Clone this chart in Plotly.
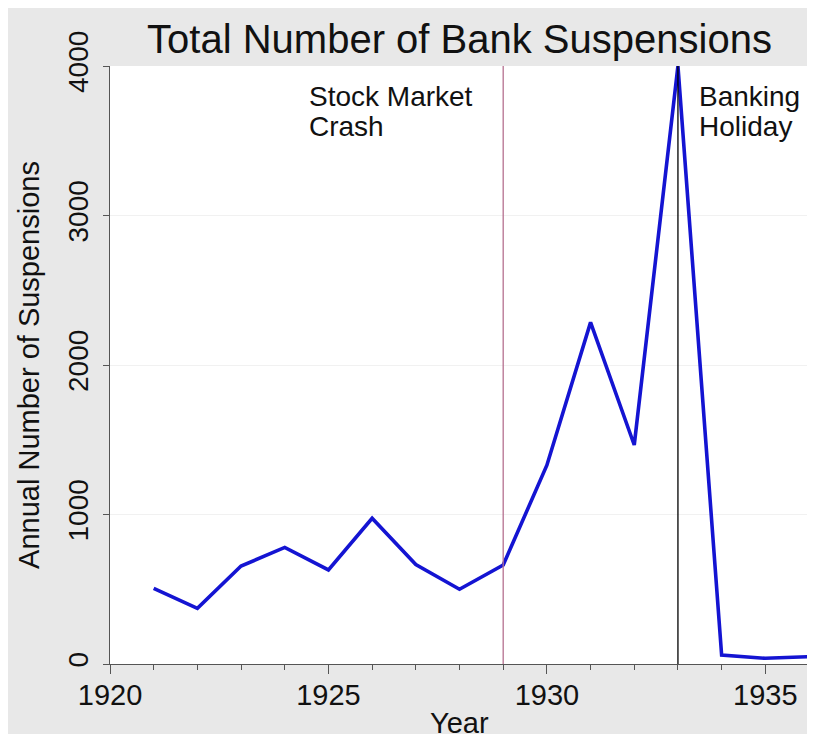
import plotly.graph_objects as go

years = [1921, 1922, 1923, 1924, 1925, 1926, 1927, 1928, 1929, 1930, 1931, 1932, 1933, 1934, 1935, 1936]
suspensions = [506, 372, 655, 780, 629, 975, 665, 500, 662, 1330, 2285, 1465, 4000, 60, 38, 49]
event_years = [1929, 1933]
event_colors = ["#b5708f", "#000000"]
y_ticks = [0, 1000, 2000, 3000, 4000]
x_ticks = [1920, 1925, 1930, 1935]

# page has an 8px body margin; figure sized to fill the rest of the window
W, H = 807, 726
ML, MR, MT, MB = 102, 6, 58, 70
PW, PH = W - ML - MR, H - MT - MB
OFF = 8  # page offset of the figure


def px_x(p):
    return (p - OFF - ML) / PW


def px_y(p):
    return (H - MB - (p - OFF)) / PH


FONT = "Liberation Sans, Arial, sans-serif"
TXT = "#111111"

fig = go.Figure()
fig.add_trace(go.Scatter(
    x=years, y=suspensions, mode="lines",
    line=dict(color="#1414d2", width=3.6),
    cliponaxis=False, showlegend=False, hoverinfo="x+y",
))

shapes = []
for yr, col in zip(event_years, event_colors):
    shapes.append(dict(type="line", xref="x", yref="paper", x0=yr, x1=yr, y0=0, y1=1,
                       line=dict(color=col, width=1.3), layer="above"))

ann_font = dict(family=FONT, size=28, color=TXT)
annotations = [
    dict(text="Stock Market", x=px_x(307), y=px_y(97), xref="paper", yref="paper",
         xanchor="left", yanchor="middle", showarrow=False, font=ann_font),
    dict(text="Crash", x=px_x(307), y=px_y(126), xref="paper", yref="paper",
         xanchor="left", yanchor="middle", showarrow=False, font=ann_font),
    dict(text="Banking", x=px_x(697), y=px_y(97), xref="paper", yref="paper",
         xanchor="left", yanchor="middle", showarrow=False, font=ann_font),
    dict(text="Holiday", x=px_x(697), y=px_y(126), xref="paper", yref="paper",
         xanchor="left", yanchor="middle", showarrow=False, font=ann_font),
    # x-axis title, placed low like the reference
    dict(text="Year", x=0.5, y=px_y(723), xref="paper", yref="paper",
         xanchor="center", yanchor="middle", showarrow=False,
         font=dict(family=FONT, size=29, color=TXT)),
]

fig.update_layout(
    width=W, height=H,
    margin=dict(l=ML, r=MR, t=MT, b=MB, autoexpand=False),
    paper_bgcolor="#e8e8e8", plot_bgcolor="#ffffff",
    font=dict(family=FONT, color=TXT),
    title=dict(text="Total Number of Bank Suspensions", x=0.5, xref="paper", xanchor="center",
               y=1 - 31 / H, yref="container", yanchor="middle",
               font=dict(family=FONT, size=40, color=TXT)),
    shapes=shapes, annotations=annotations,
    xaxis=dict(range=[1920, 1936], tickvals=x_ticks, ticks="outside", ticklen=9, tickwidth=1,
               tickcolor="#555555", showline=True, linecolor="#555555", linewidth=1,
               showgrid=False, zeroline=False, ticklabelstandoff=-4, automargin=False,
               minor=dict(dtick=1, tick0=1920, ticks="outside", ticklen=5, tickcolor="#555555", showgrid=False),
               tickfont=dict(family=FONT, size=29, color=TXT)),
    yaxis=dict(range=[0, 4000], tickvals=y_ticks, ticks="outside", ticklen=6, tickwidth=1,
               tickcolor="#555555", showline=True, linecolor="#555555", linewidth=1,
               showgrid=True, gridcolor="#f1f1f1", gridwidth=1, zeroline=False, automargin=False,
               tickangle=-90, ticklabelstandoff=4, tickfont=dict(family=FONT, size=28, color=TXT),
               title=dict(text="Annual Number of Suspensions", font=dict(family=FONT, size=29, color=TXT), standoff=14)),
)

fig.write_html("out.html")
